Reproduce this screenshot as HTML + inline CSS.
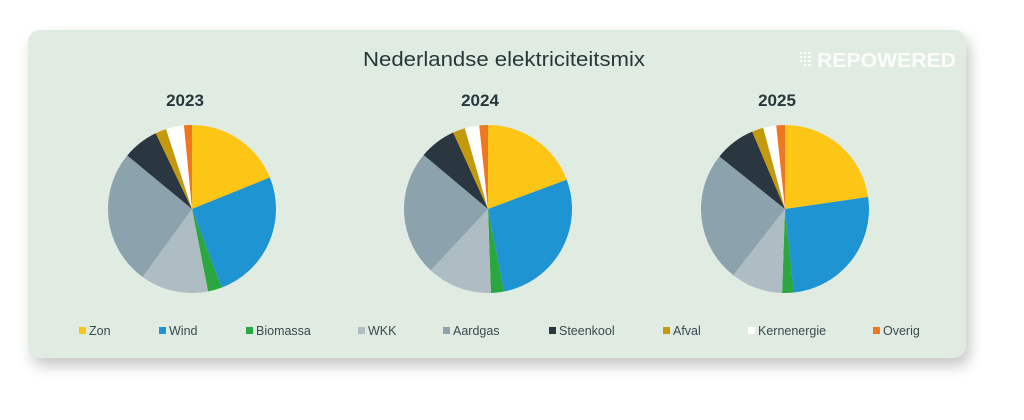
<!DOCTYPE html>
<html><head><meta charset="utf-8"><style>
body{margin:0;width:1024px;height:420px;background:#fff;font-family:"Liberation Sans",sans-serif;overflow:hidden}
.card{position:absolute;left:28px;top:30px;width:938px;height:328px;background:#e0ece2;border-radius:12px;box-shadow:4px 8px 14px rgba(0,0,0,0.22)}
</style></head><body>
<div class="card"></div>
<svg width="1024" height="420" style="position:absolute;left:0;top:0" id="s">
<text x="504" y="66" text-anchor="middle" font-size="20.5" fill="#26383c" font-family="Liberation Sans" textLength="282" lengthAdjust="spacingAndGlyphs">Nederlandse elektriciteitsmix</text>
<text x="817" y="67" font-size="20" font-weight="bold" fill="#fbfdfb" font-family="Liberation Sans" textLength="139" lengthAdjust="spacingAndGlyphs">REPOWERED</text>
<g fill="#fff"><rect x="800" y="52" width="2" height="2"/><rect x="804" y="52" width="2" height="2"/><rect x="808" y="52" width="3" height="2"/><rect x="800" y="56" width="2" height="2"/><rect x="804" y="56" width="2" height="2"/><rect x="808" y="56" width="3" height="2"/><rect x="800" y="60" width="2" height="2"/><rect x="804" y="60" width="2" height="2"/><rect x="808" y="60" width="3" height="2"/><rect x="808" y="64" width="3" height="2"/><rect x="804" y="64" width="2" height="2"/></g>
<g font-size="17" font-weight="bold" fill="#26383c" text-anchor="middle"><text x="185" y="106">2023</text><text x="480" y="106">2024</text><text x="777" y="106">2025</text></g>
<g id="pies"></g>
<g font-size="12.5" fill="#3a4a4f" id="leg"></g>
</svg>
<script>
var cols=["#fdc516","#1e94d2","#2aa83f","#aebcc4","#8ca2ad","#2a3640","#c49a0c","#ffffff","#f07620"];
var pies=[[192,209,84,[68,159.4,169,216,309.6,334.4,342,354.5,360]],[488,209,84,[69.6,169,178,223,310,335.5,344,354,360]],[785,209,84,[81.8,174,182,218,308.7,337,345,354,360]]];
var g=document.getElementById("pies"),h="";
pies.forEach(function(p){var a0=0;p[3].forEach(function(a,i){
function pt(d){var r=d*Math.PI/180;return (p[0]+p[2]*Math.sin(r)).toFixed(2)+","+(p[1]-p[2]*Math.cos(r)).toFixed(2);}
h+='<path d="M'+p[0]+','+p[1]+' L'+pt(a0)+' A'+p[2]+','+p[2]+' 0 '+((a-a0)>180?1:0)+' 1 '+pt(a)+' Z" fill="'+cols[i]+'"/>';a0=a;});});
g.innerHTML=h;
var L=[["Zon",79],["Wind",159],["Biomassa",246],["WKK",358],["Aardgas",443],["Steenkool",549],["Afval",663],["Kernenergie",748],["Overig",873]],s="";
L.forEach(function(l,i){s+='<rect x="'+l[1]+'" y="327" width="7" height="7" fill="'+cols[i]+'"/><text x="'+(l[1]+10)+'" y="335">'+l[0]+'</text>';});
document.getElementById("leg").innerHTML=s;
</script>
</body></html>
